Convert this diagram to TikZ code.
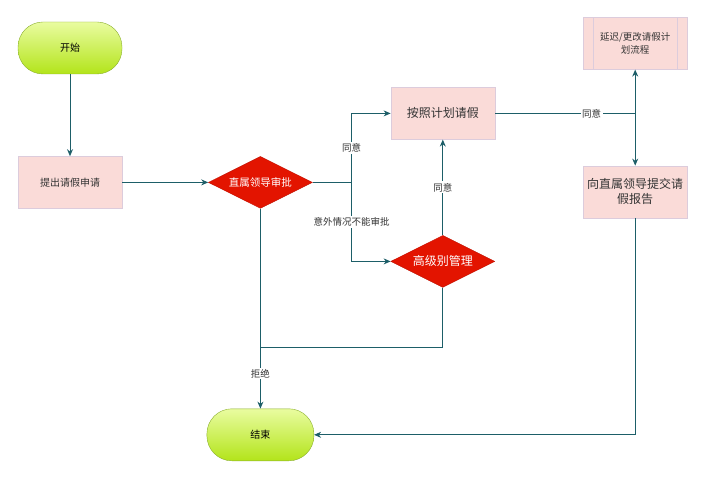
\documentclass[tikz,border=0pt]{standalone}
\usepackage{fontspec}
\setmainfont{Noto Sans CJK SC}
\usepackage{xcolor}
\usetikzlibrary{arrows.meta,positioning,calc,shapes.geometric}
\definecolor{flowline}{HTML}{1D5E68}
\definecolor{termtop}{HTML}{E9FCA0}
\definecolor{termbot}{HTML}{B3E41A}
\definecolor{termedge}{HTML}{8AAE2E}
\definecolor{procfill}{HTML}{FADBD8}
\definecolor{procedge}{HTML}{DCCCDC}
\definecolor{decfill}{HTML}{E31400}
\definecolor{decedge}{HTML}{C01000}
\definecolor{labtext}{HTML}{333333}

\begin{document}
\begin{tikzpicture}[
 x=1pt,y=1pt,
 node distance=82pt and 86pt,
 term/.style={draw=termedge,top color=termtop,bottom color=termbot,rounded corners=25pt,minimum width=104pt,minimum height=52pt,font=\fontsize{10}{12}\selectfont},
 proc/.style={draw=procedge,fill=procfill,align=center,minimum width=104pt,minimum height=52pt,text=labtext,font=\fontsize{10}{12}\selectfont},
 dec/.style={diamond,aspect=2,draw=decedge,fill=decfill,text=white,inner sep=0pt,minimum width=104pt,minimum height=52pt},
 a/.style={-{Stealth[length=7pt,width=6pt]},draw=flowline,line width=0.9pt},
 l/.style={draw=flowline,line width=0.9pt},
 lab/.style={fill=white,inner sep=1.5pt,text=labtext,font=\fontsize{9.5}{11}\selectfont}
]
\useasboundingbox (0,0) rectangle (703,-478);
\node[term] (start) at (70,-48) {开始};
\node[proc,below=of start] (apply) {提出请假申请};
\node[dec,right=of apply,font=\fontsize{10.5}{12}\selectfont] (leader) {直属领导审批};
\node[proc,right=78pt of leader,yshift=69pt,font=\fontsize{12}{14}\selectfont] (plan) {按照计划请假};
\node[dec,right=78pt of leader,yshift=-79pt,font=\fontsize{12}{14}\selectfont] (senior) {高级别管理};
\node[proc,right=88pt of plan,yshift=70pt,font=\fontsize{9.5}{13}\selectfont] (delay) {延迟/更改请假计\\划流程};
\node[proc,below=96pt of delay,font=\fontsize{12}{15}\selectfont] (report) {向直属领导提交请\\假报告};
\node[term,below=200pt of leader,minimum width=107pt] (finish) {结束};
\draw[procedge,line width=0.6pt] ([xshift=10pt]delay.north west) -- ([xshift=10pt]delay.south west);
\draw[procedge,line width=0.6pt] ([xshift=-10pt]delay.north east) -- ([xshift=-10pt]delay.south east);
% connectors
\coordinate (split) at ($(leader.east)+(39,0)$);
\coordinate (fork) at (plan.east -| report.north);
\coordinate (merge) at ($(senior.south)+(0,-60)$);
\draw[a] (start) -- (apply);
\draw[a] (apply) -- (leader);
\draw[l] (leader.east) -- (split);
\draw[a] (split) |- node[lab,pos=0.25]{同意} (plan.west);
\draw[a] (split) |- node[lab,pos=0.25]{意外情况不能审批} (senior.west);
\draw[a] (senior.north) -- node[lab]{同意} (plan.south);
\draw[l] (plan.east) -- node[lab,pos=0.69]{同意} (fork);
\draw[a] (fork) -- (delay.south);
\draw[a] (fork) -- (report.north);
\draw[a] (report.south) |- (finish.east);
\draw[a] (leader.south) -- node[lab,pos=0.825]{拒绝} (finish.north);
\draw[l] (senior.south) -- (merge) -- (merge -| leader.south);
\end{tikzpicture}
\end{document}
